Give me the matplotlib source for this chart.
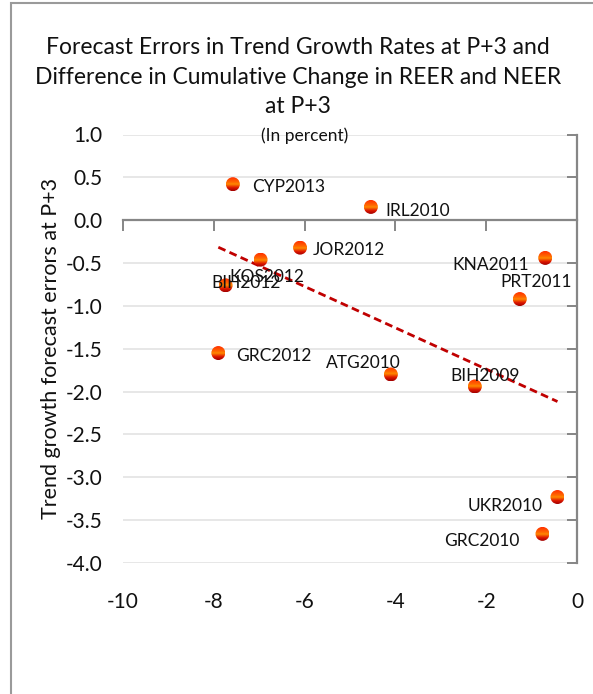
import numpy as np
import matplotlib
matplotlib.use('Agg')
import matplotlib.pyplot as plt
from matplotlib.patches import Rectangle, Ellipse
from matplotlib.colors import LinearSegmentedColormap

plt.rcParams['font.family'] = ['Lato', 'DejaVu Sans']
plt.rcParams['axes.unicode_minus'] = False

# data
labels = ['CYP2013', 'IRL2010', 'JOR2012', 'KOS2012', 'BIH2012', 'GRC2012',
          'ATG2010', 'BIH2009', 'KNA2011', 'PRT2011', 'UKR2010', 'GRC2010']
reer_neer_diff = [-7.58, -4.54, -6.10, -6.97, -7.74, -7.90,
                  -4.10, -2.25, -0.70, -1.26, -0.43, -0.76]
growth_err = [0.42, 0.155, -0.32, -0.46, -0.76, -1.55,
              -1.80, -1.94, -0.44, -0.92, -3.23, -3.66]

TITLE = ('Forecast Errors in Trend Growth Rates at P+3 and\n'
         'Difference in Cumulative Change in REER and NEER\n'
         'at P+3')
SUBTITLE = '(In percent)'
YLABEL = 'Trend growth forecast errors at P+3'

# label placement (pixel offset from point, horizontal alignment)
LABEL_POS = {
    'CYP2013': (19, -3, 'left'), 'IRL2010': (14, -4, 'left'),
    'JOR2012': (13, -2, 'left'), 'KOS2012': (6, -17, 'center'),
    'BIH2012': (-14, 2, 'left'), 'GRC2012': (18, -3, 'left'),
    'ATG2010': (10, 11, 'right'), 'BIH2009': (10, 10, 'center'),
    'KNA2011': (-16, -7, 'right'), 'PRT2011': (16, 17, 'center'),
    'UKR2010': (-15, -9, 'right'), 'GRC2010': (-23, -7, 'right'),
}

AXC = '#868686'
XLIM, YLIM = (-10, 0), (-4, 1)

fig = plt.figure(figsize=(5.93, 6.94), dpi=100)
ax = fig.add_axes([123 / 593, 131 / 694, 454 / 593, 428.5 / 694])

x = np.array(reer_neer_diff)
y = np.array(growth_err)

ax.set_xticks(np.arange(-10, 0.1, 2))
ax.set_yticks(np.arange(-4, 1.01, 0.5))
ax.yaxis.set_major_formatter(matplotlib.ticker.FormatStrFormatter('%.1f'))
ax.grid(axis='y', color='#E3E3E3', lw=1.2)
ax.set_axisbelow(True)
for s in ax.spines.values():
    s.set_visible(False)
ax.tick_params(axis='y', length=0, pad=15, labelsize=15, labelcolor='#111111')
ax.tick_params(axis='x', length=0, pad=21, labelsize=15, labelcolor='#111111')
ax.set_ylabel(YLABEL, fontsize=15.5, labelpad=3, color='#111111')

# linear trend
slope, icpt = np.polyfit(x, y, 1)
tx = np.array([x.min(), x.max()])
ax.plot(tx, slope * tx + icpt, color='#C00000', lw=2.0, ls=(0, (2.8, 1.6)), zorder=3)

# shaded sphere markers: vertical gradient clipped to a circle
sphere = LinearSegmentedColormap.from_list('sphere', [
    (0.0, '#A00000'), (0.25, '#E01800'), (0.5, '#FF8C00'),
    (0.62, '#FF6A00'), (1.0, '#FF3000')])
grad = np.linspace(0, 1, 64).reshape(-1, 1)
r_px = 7.0
rx = r_px * (XLIM[1] - XLIM[0]) / ax.bbox.width
ry = r_px * (YLIM[1] - YLIM[0]) / ax.bbox.height
for xi, yi in zip(x, y):
    circ = Ellipse((xi, yi), 2 * rx, 2 * ry, transform=ax.transData)
    im = ax.imshow(grad, cmap=sphere, origin='lower', aspect='auto', zorder=5,
                   extent=[xi - rx, xi + rx, yi - ry, yi + ry], interpolation='bilinear')
    im.set_clip_path(circ)

for lab, xi, yi in zip(labels, x, y):
    dx, dy, ha = LABEL_POS[lab]
    ax.annotate(lab, (xi, yi), xytext=(dx, dy), textcoords='offset pixels',
                ha=ha, va='center', fontsize=12.5, color='#111111', zorder=7)

ax.set_xlim(XLIM)
ax.set_ylim(YLIM)

# vertical axis line at x=0 with inward ticks
ax2 = ax.twinx()
ax2.set_ylim(YLIM)
ax2.set_yticks(np.arange(-4, 1.01, 0.5))
for k, s in ax2.spines.items():
    s.set_visible(k == 'right')
ax2.spines['right'].set_color(AXC)
ax2.spines['right'].set_linewidth(1.6)
ax2.tick_params(axis='y', direction='in', length=7, width=1.4, color=AXC, labelright=False)

# horizontal axis line at y=0 with downward ticks
ax3 = ax.twiny()
ax3.set_xlim(XLIM)
ax3.set_xticks(np.arange(-10, 0.1, 2))
for k, s in ax3.spines.items():
    s.set_visible(k == 'top')
ax3.spines['top'].set_position(('data', 0))
ax3.spines['top'].set_color(AXC)
ax3.spines['top'].set_linewidth(1.6)
ax3.tick_params(axis='x', direction='in', length=8, width=1.4, color=AXC, labeltop=False)

fig.text(298 / 593, 1 - 77 / 694, TITLE, ha='center', va='center',
         fontsize=16.5, linespacing=1.5, color='#111111')
fig.text(305 / 593, 1 - 136 / 694, SUBTITLE, ha='center', va='center',
         fontsize=12.5, color='#111111')

fig.patches.append(Rectangle((11 / 593, -0.1), 1.2, 1.1 - 3 / 694, transform=fig.transFigure,
                             fill=False, edgecolor='#9A9A9A', lw=1.5))

fig.savefig('out.png', dpi=100)
